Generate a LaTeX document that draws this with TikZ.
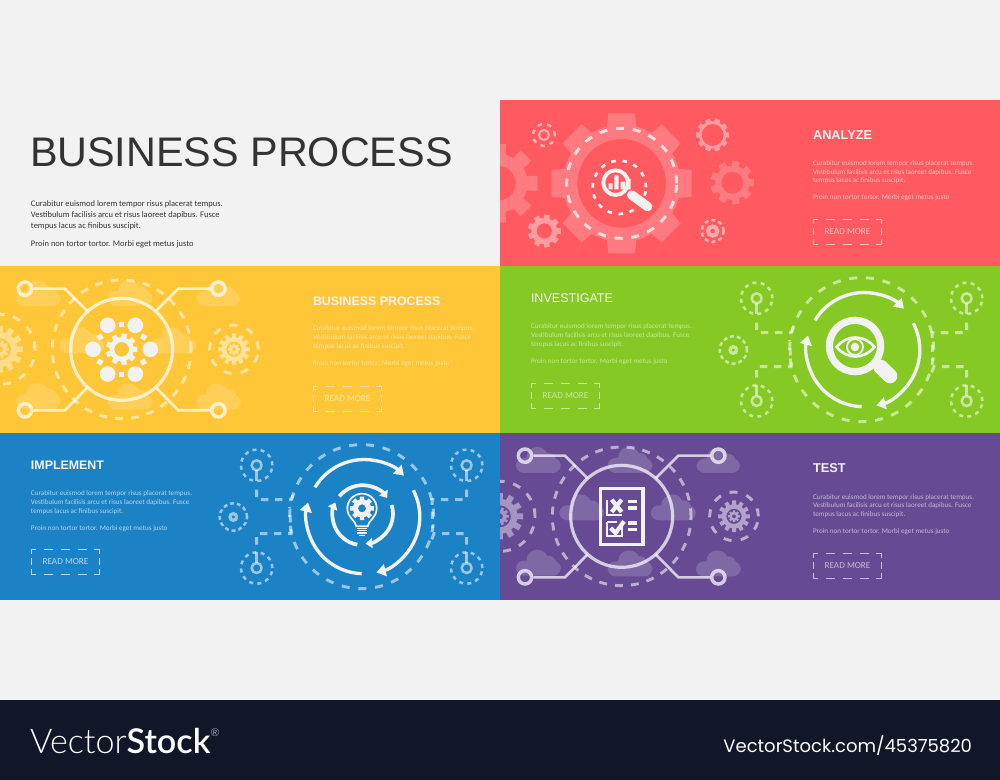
\documentclass[tikz,border=0pt]{standalone}
\usepackage{fontspec}
\setmainfont{Liberation Sans}
\newfontfamily\bodyf{Carlito}
\newfontfamily\logol{Lato Light}
\newfontfamily\logob{Lato Semibold}
\newfontfamily\reff{Poppins}
\usetikzlibrary{arrows.meta}
\definecolor{pagebg}{HTML}{F2F2F2}
\definecolor{pred}{HTML}{FF5A5F}
\definecolor{pyel}{HTML}{FFC637}
\definecolor{pgrn}{HTML}{86C924}
\definecolor{pblu}{HTML}{1B82C5}
\definecolor{ppur}{HTML}{664A94}
\definecolor{foot}{HTML}{111628}
\definecolor{ink}{HTML}{333333}
\definecolor{icon}{HTML}{F2F2F2}
\tikzset{
  x=.75pt,y=.75pt,
  dashline/.style={draw=white,draw opacity=.55,line width=2.2pt,dash pattern=on 6pt off 6.6pt},
  softline/.style={draw=white,draw opacity=.72,line width=2.4pt},
  softfill/.style={fill=white,fill opacity=.17},
  txt/.style={anchor=base west,inner sep=0pt,outer sep=0pt},
  arrowline/.style={draw=icon,line width=2.5pt,-{Triangle[length=7pt,width=9pt]}},
  smallarrow/.style={draw=icon,line width=2.8pt,-{Triangle[length=5pt,width=7.5pt]}}
}
% gear: x y Router Rbody Rhole teeth rot style
\newcommand{\gearat}[8]{%
 \begin{scope}[shift={(#1,#2)},rotate=#7]
 \pgfmathsetmacro{\gs}{360/#6}
 \fill[#8,even odd rule] (0,0) circle (#5)
   (-.32*\gs:#4)
   \foreach \i [evaluate=\i as \a using \i*\gs] in {1,...,#6} {
     -- (\a-\gs-.32*\gs:#4) -- (\a-\gs-.24*\gs:#3) -- (\a-\gs+.24*\gs:#3) -- (\a-\gs+.32*\gs:#4)
     -- (\a-\gs+.44*\gs:#4+.15) -- (\a-\gs+.56*\gs:#4+.15)
   } -- cycle;
 \end{scope}}
\newcommand{\cloudat}[3]{% cx base scale
 \begin{scope}[shift={(#1,#2)},scale=#3]
 \fill[softfill] [rounded corners=6] (-22.5,0) -- (22.5,0) -- (22.5,15) -- (-22.5,15) -- cycle
   (-1,15) circle (11) (10,12) circle (8);
 \end{scope}}
\newcommand{\rmore}[4]{% x y colour name
 \begin{scope}[shift={(#1,-#2)},#3,line width=.7pt]
 \draw (0,-5)--(0,0)--(5,0) (63,0)--(68,0)--(68,-5) (68,-20)--(68,-25)--(63,-25) (5,-25)--(0,-25)--(0,-20);
 \draw (13,0)--(22,0) (30,0)--(39,0) (47,0)--(56,0) (13,-25)--(22,-25) (30,-25)--(39,-25) (47,-25)--(56,-25) (0,-9)--(0,-16) (68,-9)--(68,-16);
 \node[txt,font=\bodyf\fontsize{6.9}{7}\selectfont,anchor=center,text=#3] (#4) at (34.5,-12.5) {READ MORE};
 \end{scope}}
\newcommand{\bodylines}[5]{% x y colour name leading(px)
 \node[txt,text=#3,font=\bodyf\fontsize{5.35}{6}\selectfont] (#4a) at (#1,-#2) {Curabitur euismod lorem tempor risus placerat tempus.};
 \node[txt,text=#3,font=\bodyf\fontsize{5.35}{6}\selectfont] (#4b) at (#1,{-#2-#5}) {Vestibulum facilisis arcu et risus laoreet dapibus. Fusce};
 \node[txt,text=#3,font=\bodyf\fontsize{5.35}{6}\selectfont] (#4c) at (#1,{-#2-2*#5}) {tempus lacus ac finibus suscipit.};
 \node[txt,text=#3,font=\bodyf\fontsize{5.35}{6}\selectfont] (#4d) at (#1,{-#2-4*#5}) {Proin non tortor tortor. Morbi eget metus justo};
}
% panel with hub, connectors, clouds (zoom coordinates, 3x)
\newcommand{\hubpanel}[2]{%
 \begin{scope}[shift={(#1,-#2)},x=.25pt,y=.25pt]
 \cloudat{115}{-120}{3}\cloudat{390}{-120}{3}\cloudat{655}{-120}{2.9}
 \cloudat{115}{-428}{3}\cloudat{390}{-430}{3}\cloudat{655}{-430}{3}
 \cloudat{245}{-262}{3}\cloudat{520}{-262}{3}
 \begin{scope}
 \clip (0,0) rectangle (810,-501);
 \gearat{0}{-250}{70}{52}{33}{12}{0}{fill=white,fill opacity=.42}
 \gearat{0}{-250}{27}{20}{9}{10}{0}{fill=white,fill opacity=.42}
 \draw[dashline] (0,-250) circle (105);
 \end{scope}
 \gearat{702}{-250}{48}{36}{23}{12}{0}{fill=white,fill opacity=.5}
 \gearat{702}{-250}{18}{13}{6}{8}{0}{fill=white,fill opacity=.5}
 \draw[dashline,dash pattern=on 6pt off 7pt] (702,-250) circle (73);
 \draw[dashline,dash pattern=on 6pt off 6pt] (365,-250) circle (208);
 \draw[softline] (365,-250) circle (153);
 \draw[softline,line width=2pt] (263,-136)--(195,-68)--(100,-68) (467,-136)--(535,-68)--(630,-68)
   (263,-364)--(195,-433)--(100,-433) (467,-364)--(535,-433)--(630,-433);
 \foreach \tx/\ty in {75/-68,655/-68,75/-433,655/-433}{
   \draw[softline,line width=2.6pt] (\tx,\ty) circle (20);
 }
 \end{scope}}
% cycle panel (zoom coordinates, 3x)
\newcommand{\flowpanel}[2]{%
 \begin{scope}[shift={(#1,-#2)},x=.25pt,y=.25pt]
 \draw[dashline] (455,-251) circle (216);
 \foreach \sx/\sy/\ang in {140/-97/-90,770/-97/-90,140/-405/90,770/-405/90}{
   \draw[dashline,line width=1.9pt,dash pattern=on 3pt off 3.2pt] (\sx,\sy) circle (47);
   \draw[dashline,dash pattern=on 10pt off 0pt,line width=1.9pt] (\sx,\sy) circle (15);
   \draw[dashline,dash pattern=on 10pt off 0pt,line width=1.9pt] (\sx,\sy) ++(\ang:15) -- ++(\ang:33);
 }
 \draw[dashline,line width=1.9pt,dash pattern=on 3pt off 2.2pt] (70,-252) circle (41);
 \draw[dashline,dash pattern=on 10pt off 0pt,line width=2.4pt] (70,-252) circle (10);
 \draw[dashline,dash pattern=on 5.6pt off 5pt] (140,-170)--(140,-200)--(243,-200)--(256,-170);
 \draw[dashline,dash pattern=on 5.6pt off 5pt] (140,-335)--(140,-302)--(243,-302)--(239,-222);
 \draw[dashline,dash pattern=on 5.6pt off 5pt] (770,-170)--(770,-200)--(666,-200)--(668,-285);
 \draw[dashline,dash pattern=on 5.6pt off 5pt] (770,-335)--(770,-302)--(672,-302)--(660,-332);
 \draw[arrowline] (315,-163) arc[start angle=149,end angle=46,radius=172];
 \draw[arrowline] (610,-172) arc[start angle=27.5,end angle=-76,radius=172];
 \draw[arrowline] (455,-422) arc[start angle=-92,end angle=-194,radius=172];
 \end{scope}}
\begin{document}
\begin{tikzpicture}
\useasboundingbox (0,0) rectangle (1000,-780);
\fill[pagebg] (0,0) rectangle (1000,-780);
\fill[pred] (500,-100) rectangle (1000,-266);
\fill[pyel] (0,-266) rectangle (500,-433);
\fill[pgrn] (500,-266) rectangle (1000,-433);
\fill[pblu] (0,-433) rectangle (500,-600);
\fill[ppur] (500,-433) rectangle (1000,-600);
\fill[foot] (0,-700) rectangle (1000,-780);

% title block
\node[txt,text=ink,font=\fontsize{31}{32}\selectfont] (title) at (30,-167) {BUSINESS PROCESS};
\node[txt,text=ink,font=\bodyf\fontsize{6.37}{7}\selectfont] (t1) at (31,-207) {Curabitur euismod lorem tempor risus placerat tempus.};
\node[txt,text=ink,font=\bodyf\fontsize{6.37}{7}\selectfont] (t2) at (31,-218) {Vestibulum facilisis arcu et risus laoreet dapibus. Fusce};
\node[txt,text=ink,font=\bodyf\fontsize{6.37}{7}\selectfont] (t3) at (31,-229) {tempus lacus ac finibus suscipit.};
\node[txt,text=ink,font=\bodyf\fontsize{6.37}{7}\selectfont] (t4) at (31,-247) {Proin non tortor tortor. Morbi eget metus justo};

% ---- red panel
\begin{scope}[shift={(500,-100)},x=.25pt,y=.25pt]
 \begin{scope}
 \clip (0,0) rectangle (750,-498);
 \gearat{-5}{-250}{120}{88}{52}{8}{0}{fill=white,fill opacity=.2}
 \end{scope}
 \gearat{365}{-250}{214}{176}{133}{8}{0}{fill=white,fill opacity=.2}
 \draw[dashline,draw opacity=.75] (365,-250) circle (165);
 \gearat{638}{-105}{50}{41}{33}{10}{0}{fill=white,fill opacity=.4}
 \gearat{697}{-248}{66}{51}{33}{9}{0}{fill=white,fill opacity=.2}
 \gearat{133}{-393}{50}{39}{23}{9}{0}{fill=white,fill opacity=.4}
 \draw[dashline,line width=1.9pt,dash pattern=on 3.2pt off 4pt] (132,-105) circle (33);
 \draw[draw=white,draw opacity=.5,line width=1.6pt] (132,-105) circle (15);
 \draw[dashline,line width=1.9pt,dash pattern=on 3pt off 2.4pt] (638,-393) circle (33);
 \draw[draw=white,draw opacity=.5,line width=3pt] (638,-393) circle (14);
 \draw[draw=icon,line width=2pt,dash pattern=on 3.5pt off 5pt] (358,-262) circle (80);
 \fill[pred] (347,-248) circle (50);
 \draw[icon,line width=2.9pt] (347,-248) circle (37);
 \draw[icon,line width=7pt,line cap=round] (395,-285)--(443,-320);
 \fill[icon] (326,-250) rectangle (338,-268) (343,-226) rectangle (356,-268) (362,-245) rectangle (376,-268) (380,-236) rectangle (392,-268);
\end{scope}
\node[txt,text=icon,font=\bfseries\fontsize{9.6}{10}\selectfont] (h1) at (813,-140) {ANALYZE};
\bodylines{813}{165.5}{white!62!pred}{r}{8.6}
\rmore{813}{219.5}{white!62!pred}{rb}

% ---- yellow panel
\hubpanel{0}{266}
\begin{scope}[shift={(0,-266)},x=.25pt,y=.25pt]
 \foreach \cx/\cy in {323/178,406/178,279/250,451/250,323/324,406/324}{\fill[icon] (\cx,-\cy) circle (23.5);}
 \foreach \cx/\cy/\ro in {365/175/0,365/325/0,300/213/30,431/213/-30,300/288/-30,430/288/30}{\fill[icon,rotate around={\ro:(\cx,-\cy)}] (\cx-8,-\cy-8) rectangle (\cx+8,-\cy+8);}
 \gearat{365}{-250}{48}{36}{22}{9}{0}{fill=icon}
\end{scope}
\node[txt,text=icon,font=\bfseries\fontsize{9.3}{10}\selectfont] (h2) at (313,-306) {BUSINESS PROCESS};
\bodylines{313}{331}{white!55!pyel}{y}{8.6}
\rmore{313}{386}{white!55!pyel}{yb}

% ---- green panel
\flowpanel{710}{266}
\begin{scope}[shift={(710,-266)},x=.25pt,y=.25pt]
 \draw[icon,line width=11pt,line cap=round] (512,-303)--(540,-330);
 \draw[icon,line width=5.4pt] (435,-240) circle (77);
 \draw[icon,line width=2pt] (380,-243) .. controls (410,-205) and (463,-205) .. (493,-243) .. controls (463,-281) and (410,-281) .. (380,-243) -- cycle;
 \draw[icon,line width=1.4pt] (435,-243) circle (24);
 \fill[icon] (435,-243) circle (13);
\end{scope}
\node[txt,text=icon,font=\fontsize{9.4}{10}\selectfont] (h3) at (531,-303) {INVESTIGATE};
\bodylines{531}{329}{white!55!pgrn}{g}{8.6}
\rmore{531}{383}{white!55!pgrn}{gb}

% ---- blue panel
\flowpanel{210}{433}
\begin{scope}[shift={(210,-433)},x=.25pt,y=.25pt]
 \draw[smallarrow] (388,-190) arc[start angle=141,end angle=35,radius=90];
 \draw[smallarrow] (545,-216) arc[start angle=17,end angle=-85,radius=90];
 \draw[smallarrow] (442,-335) arc[start angle=-100,end angle=-205,radius=90];
 \draw[icon,line width=1.3pt] (439,-280) .. controls (437,-262) and (412,-255) .. (412,-226) arc[start angle=180,end angle=0,radius=44] .. controls (500,-255) and (475,-262) .. (473,-280) -- cycle;
 \gearat{456}{-226}{36}{27}{12}{8}{0}{fill=icon}
 \draw[icon,line width=1.1pt] (440,-286)--(472,-286) (440,-293)--(472,-293) (442,-300)--(470,-300) (447,-307)--(465,-307);
\end{scope}
\node[txt,text=icon,font=\bfseries\fontsize{9.3}{10}\selectfont] (h4) at (31,-470) {IMPLEMENT};
\bodylines{31}{496}{white!68!pblu}{b}{8.6}
\rmore{31}{549}{white!68!pblu}{bb}

% ---- purple panel
\hubpanel{500}{433}
\begin{scope}[shift={(500,-433)},x=.25pt,y=.25pt]
 \draw[icon,line width=2.7pt] (301,-167) rectangle (429,-335);
 \draw[icon,line width=1.7pt] (322,-200)--(322,-245)--(365,-245) (322,-267)--(322,-310)--(365,-310)--(365,-280) (322,-267)--(350,-267);
 \draw[icon,line width=3.2pt] (335,-200)--(365,-237) (365,-200)--(335,-237);
 \draw[icon,line width=3.2pt] (332,-285)--(347,-300)--(372,-265);
 \draw[icon,line width=2.6pt] (385,-206)--(410,-206) (385,-225)--(410,-225) (385,-270)--(410,-270) (385,-289)--(410,-289);
\end{scope}
\node[txt,text=icon,font=\bfseries\fontsize{9.6}{10}\selectfont] (h5) at (813,-473) {TEST};
\bodylines{813}{499}{white!62!ppur}{p}{8.6}
\rmore{813}{553}{white!62!ppur}{pb}

% ---- footer
\node[txt,text=white,font=\fontsize{25.6}{28}\selectfont] (logo) at (30,-753) {\logol Vector\logob Stock\raisebox{12.5pt}{\logol\fontsize{8}{8}\selectfont ®}};
\node[txt,text=white,font=\reff\fontsize{13.5}{15}\selectfont,anchor=base east] (ref) at (972,-752.5) {VectorStock.com/45375820};
\end{tikzpicture}
\end{document}
